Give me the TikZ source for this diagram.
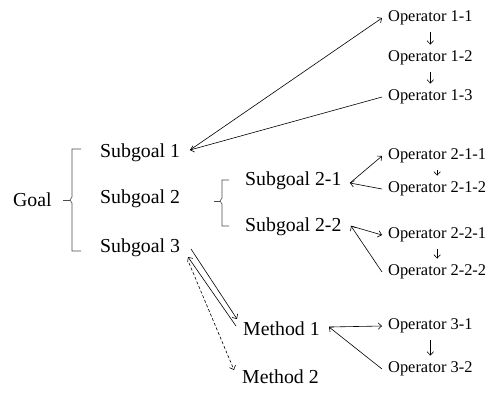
\documentclass[tikz,border=0pt]{standalone}
\usepackage{fontspec}
\setmainfont{Liberation Serif}
\usetikzlibrary{arrows.meta,calc,positioning}
\tikzset{lnk/.style={line width=0.6bp, -{Straight Barb[length=3.5bp,width=6.5bp]}},
  sg/.style={inner sep=0pt, anchor=west, font=\fontsize{19.8bp}{22bp}\selectfont},
  opr/.style={inner xsep=6bp, inner ysep=0pt, anchor=west, font=\fontsize{16.4bp}{19bp}\selectfont},
  brk/.style={line width=0.6bp, black!70},
  down/.style={lnk, shorten <=7bp, shorten >=6bp}}

\begin{document}
\begin{tikzpicture}[x=1bp, y=-1bp]
  \useasboundingbox (0,0) rectangle (495,405);
  % goal and subgoals
  \node[sg] (goal) at (13,200) {Goal};
  \node[sg] (sub1) at (100,153) {Subgoal 1};
  \node[sg] (sub2) at (100,199) {Subgoal 2};
  \node[sg] (sub3) at (100,248) {Subgoal 3};
  \node[sg] (sub21) at (245,181) {Subgoal 2-1};
  \node[sg] (sub22) at (245,227) {Subgoal 2-2};
  \node[sg] (meth1) at (243,329) {Method 1};
  \node[sg] (meth2) at (242,377) {Method 2};
  % brackets
  \draw[brk] (81,149) -- (72,149) -- (72,197) -- (70,200) -- (72,203) -- (72,251) -- (81,251);
  \draw[brk] (63,200) -- (70,200);
  \draw[brk] (229,180) -- (222,180) -- (222,198) -- (220,201) -- (222,204) -- (222,226) -- (229,226);
  \draw[brk] (214,201) -- (220,201);
  % operators
  \node[opr] (op11) at (382,18) {Operator 1-1};
  \node[opr] (op12) at (382,58) {Operator 1-2};
  \node[opr] (op13) at (382,97) {Operator 1-3};
  \node[opr] (op211) at (382,156) {Operator 2-1-1};
  \node[opr] (op212) at (382,189) {Operator 2-1-2};
  \node[opr] (op221) at (382,235) {Operator 2-2-1};
  \node[opr] (op222) at (382,272) {Operator 2-2-2};
  \node[opr] (op31) at (382,326) {Operator 3-1};
  \node[opr] (op32) at (382,369) {Operator 3-2};
  \draw[down] (op11) -- (op12);
  \draw[down] (op12) -- (op13);
  \draw[down] (op211) -- (op212);
  \draw[down] (op221) -- (op222);
  \draw[down] (op31) -- (op32);
  % hubs
  \coordinate (h1) at (190,150);
  \coordinate (h21) at (350,183);
  \coordinate (h22) at (351,226);
  \coordinate (h3) at (329,327);
  \draw[lnk] (h1) -- (op11.west);
  \draw[lnk] (op13.west) -- (h1);
  \draw[lnk] (h21) -- (op211.west);
  \draw[lnk] (op212.west) -- (h21);
  \draw[lnk] (h22) -- (op221.west);
  \draw[lnk] (op222.west) -- (h22);
  \draw[lnk] (h3) -- (op31.west);
  \draw[lnk] (op32.west) -- (h3);
  % subgoal 3 and its methods
  \coordinate (s3out) at (191,249);
  \coordinate (s3in) at (188,257);
  \coordinate (s3alt) at (189,263);
  \coordinate (m1in) at (237,319);
  \coordinate (m1out) at (236,326);
  \coordinate (m2in) at (234,370);
  \draw[lnk] (s3out) -- (m1in);
  \draw[lnk] (m1out) -- (s3in);
  \draw[lnk, dash pattern=on 3bp off 2bp] (s3alt) -- (m2in);
\end{tikzpicture}
\end{document}
